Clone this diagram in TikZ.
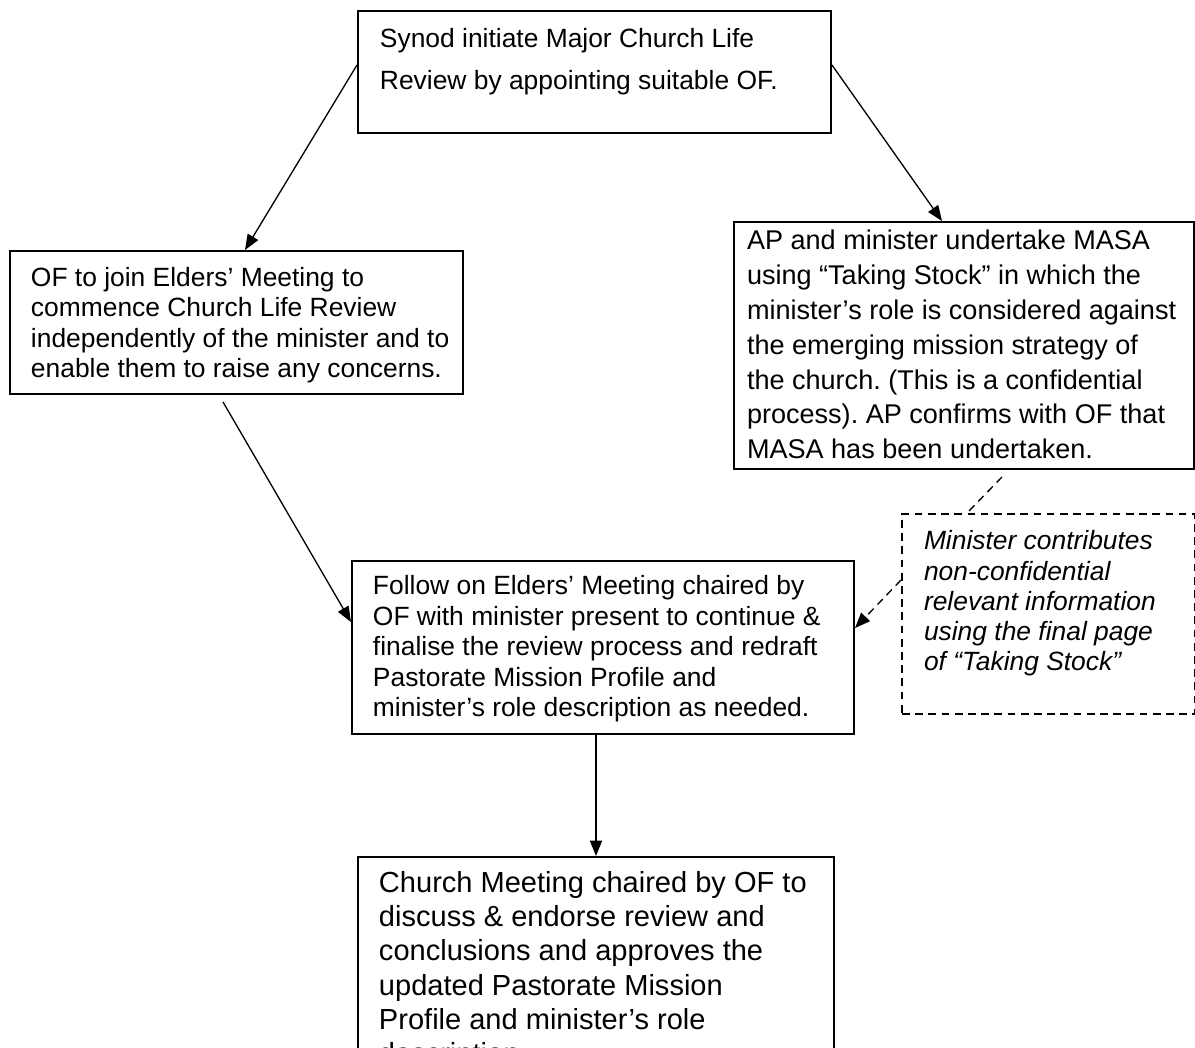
\documentclass[tikz,border=0pt]{standalone}
\usepackage{fontspec}
\setmainfont{Liberation Sans}
\usetikzlibrary{arrows.meta,calc}
\frenchspacing
\newdimen\pu \pu=0.45455pt
% width, height, left margin, first baseline offset, font, text
\newcommand{\boxtext}[6]{\parbox[c][#2\pu][t]{#1\pu}{\raggedright\leftskip=#3\pu\relax\parindent=0pt #5\rule{0pt}{#4\pu}#6\par}}
\tikzset{
  boxn/.style={draw, line width=0.9pt, inner sep=0pt, anchor=north west},
  dashn/.style={boxn, dash pattern=on 3.5pt off 2.5pt},
  conn/.style={line width=0.6pt, -{Triangle[length=7pt,width=5.5pt]}},
  dline/.style={line width=0.6pt, dash pattern=on 3.5pt off 2.5pt},
  dconn/.style={conn, dash pattern=on 3.5pt off 2.5pt},
}
\begin{document}
\begin{tikzpicture}[x=0.45455pt,y=-0.45455pt]
\useasboundingbox (0,0) rectangle (1195,1047);
\clip (0,0) rectangle (1195,1047);

\node[boxn] (syn) at (357,10) {\boxtext{473}{122}{22}{36.5}{\fontsize{12}{19.3}\selectfont}{Synod initiate Major Church Life\\Review by appointing suitable OF.}};

\node[boxn] (ofj) at (9,250) {\boxtext{453}{143}{21}{35.6}{\fontsize{12}{13.8}\selectfont}{OF to join Elders’ Meeting to\\commence Church Life Review\\independently of the minister and to\\enable them to raise any concerns.}};

\node[boxn] (ap) at (733,221) {\boxtext{460}{247}{13}{28}{\fontsize{12.3}{15.8}\selectfont}{AP and minister undertake MASA\\using “Taking Stock” in which the\\minister’s role is considered against\\the emerging mission strategy of\\the church. (This is a confidential\\process). AP confirms with OF that\\MASA has been undertaken.}};

\node[boxn] (mid) at (351,560) {\boxtext{502}{173}{21}{33.5}{\fontsize{12}{13.9}\selectfont}{Follow on Elders’ Meeting chaired by\\OF with minister present to continue \&\\finalise the review process and redraft\\Pastorate Mission Profile and\\minister’s role description as needed.}};

\node[dashn] (note) at (901,513) {\boxtext{293}{200}{22}{36}{\fontsize{12}{13.7}\selectfont\itshape}{Minister contributes\\non-confidential\\relevant information\\using the final page\\of “Taking Stock”}};

\node[boxn] (cm) at (357,856) {\boxtext{476}{240}{21}{35.7}{\fontsize{13.2}{15.5}\selectfont}{Church Meeting chaired by OF to\\discuss \& endorse review and\\conclusions and approves the\\updated Pastorate Mission\\Profile and minister’s role\\description.}};

\draw[conn] ($(syn.north west)+(0,55)$) -- ($(ofj.north west)+(236,0)$);
\draw[conn] ($(syn.north east)+(0,55)$) -- ($(ap.north west)+(209,0)$);
\draw[conn] ($(ofj.south west)+(214,7)$) -- ($(mid.north west)+(0,62)$);
\draw[conn] (cm.north |- mid.south) -- (cm.north);
\draw[dline] ($(ap.south west)+(269,7)$) -- ($(note.north west)+(66,0)$);
\draw[dconn] ($(note.north west)+(0,67)$) -- ($(mid.north east)+(0,68)$);
\end{tikzpicture}
\end{document}
